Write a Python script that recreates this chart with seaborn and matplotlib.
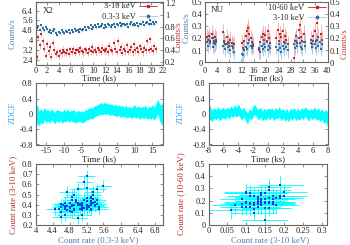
import numpy as np
import pandas as pd
import seaborn as sns
import matplotlib
matplotlib.use("Agg")
import matplotlib.pyplot as plt
from matplotlib.lines import Line2D
from matplotlib.ticker import MultipleLocator, FuncFormatter

# X2 light curves (0.25 ks bins)
x2_time = [0.25, 0.5, 0.75, 1.0, 1.25, 1.5, 1.75, 2.0, 2.25, 2.5, 2.75, 3.0,
           3.25, 3.5, 3.75, 4.0, 4.25, 4.5, 4.75, 5.0, 5.25, 5.5, 5.75, 6.0,
           6.25, 6.5, 6.75, 7.0, 7.25, 7.5, 7.75, 8.0, 8.25, 8.5, 8.75, 9.0,
           9.25, 9.5, 9.75, 10.0, 10.25, 10.5, 10.75, 11.0, 11.25, 11.5, 11.75, 12.0,
           12.25, 12.5, 12.75, 13.0, 13.25, 13.5, 13.75, 14.0, 14.25, 14.5, 14.75, 15.0,
           15.25, 15.5, 15.75, 16.0, 16.25, 16.5, 16.75, 17.0, 17.25, 17.5, 17.75, 18.0,
           18.25, 18.5, 18.75, 19.0, 19.25, 19.5, 19.75, 20.0, 20.25, 20.5, 20.75]
x2_soft = [5.0, 5.15, 4.85, 5.2, 5.0, 4.8, 5.1, 4.9,
           4.7, 4.85, 4.6, 4.75, 4.9, 4.6, 4.45, 4.7,
           4.6, 4.8, 4.65, 4.55, 4.75, 4.7, 4.85, 4.6,
           4.8, 4.7, 4.9, 4.75, 4.85, 4.7, 4.95, 4.8,
           4.9, 5.05, 4.85, 5.1, 5.0, 5.2, 4.95, 5.1,
           5.2, 5.05, 5.3, 5.1, 5.15, 5.3, 5.0, 5.25,
           5.1, 5.3, 5.2, 5.05, 5.25, 5.35, 5.1, 5.3,
           5.2, 5.4, 5.15, 5.3, 5.35, 5.2, 5.3, 5.1,
           5.3, 5.45, 5.2, 5.35, 5.25, 5.4, 5.15, 5.35,
           5.3, 5.5, 5.2, 5.4, 5.45, 5.3, 5.6, 5.35,
           5.5, 5.3, 5.45]
x2_hard = [0.27, 0.62, 0.48, 0.68, 0.55, 0.42, 0.30, 0.50,
           0.38, 0.45, 0.28, 0.52, 0.40, 0.33, 0.36, 0.30,
           0.38, 0.34, 0.40, 0.36, 0.35, 0.39, 0.33, 0.41,
           0.37, 0.42, 0.35, 0.39, 0.40, 0.36, 0.43, 0.38,
           0.36, 0.41, 0.39, 0.35, 0.42, 0.38, 0.45, 0.37,
           0.40, 0.36, 0.43, 0.39, 0.37, 0.44, 0.40, 0.38,
           0.42, 0.36, 0.47, 0.40, 0.38, 0.52, 0.41, 0.36,
           0.56, 0.40, 0.45, 0.35, 0.42, 0.38, 0.48, 0.37,
           0.40, 0.45, 0.36, 0.50, 0.39, 0.43, 0.37, 0.46,
           0.41, 0.36, 0.44, 0.39, 0.55, 0.40, 0.58, 0.42,
           0.38, 0.47, 0.41]
x2_soft_err = 0.2
x2_hard_err = 0.06

# NU light curves
nu_time = [0.3, 0.7, 1.1, 1.5, 1.9, 2.3, 2.7, 3.1, 3.5, 3.9,
           6.0, 6.4, 6.8, 7.2, 7.6, 8.0, 8.4, 8.8, 9.2, 9.6,
           12.2, 12.6, 13.0, 13.4, 13.8, 14.2, 14.6, 15.0, 15.4, 15.8,
           17.8, 18.2, 18.6, 19.0, 19.4, 19.8, 20.2, 20.6, 21.0, 21.4,
           23.4, 23.8, 24.2, 24.6, 25.0, 25.4, 25.8, 26.2, 26.6, 27.0,
           29.0, 29.4, 29.8, 30.2, 30.6, 31.0, 31.4, 31.8, 32.2, 32.6,
           34.6, 35.0, 35.4, 35.8, 36.2, 36.6, 37.0, 37.4, 37.8, 38.2]
nu_hard = [0.17, 0.21, 0.19, 0.22, 0.18, 0.24, 0.20, 0.16, 0.21, 0.19,
           0.25, 0.18, 0.15, 0.21, 0.17, 0.14, 0.19, 0.16, 0.13, 0.15,
           0.16, 0.12, 0.18, 0.22, 0.26, 0.29, 0.24, 0.20, 0.17, 0.14,
           0.10, 0.17, 0.21, 0.24, 0.19, 0.23, 0.18, 0.26, 0.20, 0.16,
           0.20, 0.27, 0.18, 0.24, 0.21, 0.26, 0.17, 0.22, 0.19, 0.15,
           0.04, 0.18, 0.22, 0.16, 0.27, 0.31, 0.21, 0.18, 0.24, 0.17,
           0.19, 0.15, 0.22, 0.26, 0.18, 0.33, 0.21, 0.17, 0.24, 0.19]
nu_soft = [0.12, 0.17, 0.14, 0.19, 0.16, 0.20, 0.13, 0.18, 0.15, 0.17,
           0.14, 0.17, 0.11, 0.15, 0.13, 0.16, 0.10, 0.14, 0.12, 0.09,
           0.07, 0.06, 0.10, 0.13, 0.11, 0.16, 0.19, 0.14, 0.12, 0.15,
           0.12, 0.09, 0.14, 0.11, 0.15, 0.13, 0.17, 0.10, 0.14, 0.12,
           0.13, 0.10, 0.15, 0.12, 0.09, 0.14, 0.11, 0.16, 0.13, 0.10,
           0.15, 0.12, 0.18, 0.14, 0.20, 0.16, 0.13, 0.11, 0.17, 0.14,
           0.16, 0.13, 0.18, 0.15, 0.12, 0.19, 0.14, 0.17, 0.11, 0.15]
nu_hard_err = 0.07
nu_soft_err = 0.06

# ZDCF between the two bands
zdcf_x2_lag = [-18.0, -17.5, -17.0, -16.5, -16.0, -15.5, -15.0, -14.5, -14.0, -13.5,
               -13.0, -12.5, -12.0, -11.5, -11.0, -10.5, -10.0, -9.5, -9.0, -8.5,
               -8.0, -7.5, -7.0, -6.5, -6.0, -5.5, -5.0, -4.5, -4.0, -3.5,
               -3.0, -2.5, -2.0, -1.5, -1.0, -0.5, 0.0, 0.5, 1.0, 1.5,
               2.0, 2.5, 3.0, 3.5, 4.0, 4.5, 5.0, 5.5, 6.0, 6.5,
               7.0, 7.5, 8.0, 8.5, 9.0, 9.5, 10.0, 10.5, 11.0, 11.5,
               12.0, 12.5, 13.0, 13.5, 14.0, 14.5, 15.0, 15.5, 16.0, 16.5,
               17.0, 17.5, 18.0]
zdcf_x2 = [-0.10, 0.00, -0.12, -0.04, -0.10, 0.01, -0.07, -0.03, -0.09, 0.00,
           -0.06, -0.11, -0.02, -0.07, -0.04, -0.10, -0.03, -0.07, -0.02, -0.08,
           -0.03, -0.06, -0.05, -0.10, -0.04, -0.08, -0.06, -0.09, -0.04, -0.02,
           0.00, 0.03, 0.01, 0.06, 0.08, 0.10, 0.12, 0.15, 0.12, 0.16,
           0.13, 0.14, 0.10, 0.13, 0.09, 0.11, 0.07, 0.10, 0.05, 0.09,
           0.04, 0.08, 0.03, 0.07, 0.02, 0.06, 0.08, 0.03, 0.07, 0.01,
           0.06, 0.02, 0.08, 0.00, 0.05, 0.02, 0.07, 0.01, 0.09, 0.20,
           0.06, -0.02, 0.03]
zdcf_x2_err = [0.30, 0.24, 0.20, 0.18, 0.17, 0.16, 0.16, 0.15, 0.16, 0.14,
               0.15, 0.14, 0.15, 0.16, 0.13, 0.15, 0.16, 0.14, 0.15, 0.14,
               0.13, 0.15, 0.16, 0.14, 0.15, 0.13, 0.15, 0.14, 0.15, 0.13,
               0.15, 0.14, 0.15, 0.15, 0.13, 0.15, 0.14, 0.16, 0.14, 0.15,
               0.15, 0.13, 0.15, 0.14, 0.13, 0.15, 0.15, 0.13, 0.15, 0.14,
               0.13, 0.15, 0.14, 0.13, 0.15, 0.14, 0.16, 0.14, 0.15, 0.16,
               0.14, 0.16, 0.15, 0.14, 0.16, 0.16, 0.17, 0.17, 0.18, 0.19,
               0.22, 0.25, 0.30]
zdcf_nu_lag = [-8.0, -7.75, -7.5, -7.25, -7.0, -6.75, -6.5, -6.25, -6.0,
               -5.75, -5.5, -5.25, -5.0, -4.75, -4.5, -4.25, -4.0,
               -3.75, -3.5, -3.25, -3.0, -2.75, -2.5, -2.25, -2.0,
               -1.75, -1.5, -1.25, -1.0, -0.75, -0.5, -0.25, 0.0,
               0.25, 0.5, 0.75, 1.0, 1.25, 1.5, 1.75, 2.0,
               2.25, 2.5, 2.75, 3.0, 3.25, 3.5, 3.75, 4.0,
               4.25, 4.5, 4.75, 5.0, 5.25, 5.5, 5.75, 6.0,
               6.25, 6.5, 6.75, 7.0, 7.25, 7.5, 7.75, 8.0]
zdcf_nu = [0.08, 0.02, -0.05, 0.03, -0.02, 0.05, -0.03, 0.01, 0.04,
           -0.02, 0.06, 0.00, 0.08, 0.03, 0.10, 0.05, 0.12,
           0.04, -0.03, 0.06, -0.05, -0.12, 0.02, -0.04, 0.08,
           0.12, 0.03, -0.02, 0.05, -0.06, 0.02, -0.03, 0.04,
           -0.02, 0.05, -0.05, 0.03, -0.01, 0.06, -0.04, 0.02,
           -0.06, 0.01, -0.08, 0.03, -0.03, 0.05, -0.05, 0.02,
           -0.04, 0.04, -0.02, 0.07, 0.00, -0.05, 0.03, -0.02,
           0.05, -0.03, 0.02, -0.06, 0.00, -0.10, -0.04, -0.12]
zdcf_nu_err = [0.21, 0.17, 0.15, 0.14, 0.13, 0.14, 0.15, 0.13, 0.14,
               0.13, 0.12, 0.14, 0.13, 0.12, 0.14, 0.13, 0.15,
               0.13, 0.14, 0.12, 0.13, 0.15, 0.13, 0.12, 0.14,
               0.13, 0.12, 0.14, 0.13, 0.12, 0.14, 0.13, 0.12,
               0.14, 0.12, 0.13, 0.14, 0.12, 0.13, 0.14, 0.12,
               0.13, 0.14, 0.12, 0.13, 0.14, 0.12, 0.13, 0.14,
               0.12, 0.13, 0.14, 0.12, 0.13, 0.14, 0.12, 0.13,
               0.14, 0.13, 0.15, 0.13, 0.14, 0.15, 0.16, 0.19]

x2 = pd.DataFrame({"time": x2_time, "soft": x2_soft, "hard": x2_hard})
nu = pd.DataFrame({"time": nu_time, "soft": nu_soft, "hard": nu_hard})

sns.set_theme(style="ticks")
plt.rcParams["font.family"] = ["Liberation Serif", "DejaVu Serif"]
plt.rcParams["font.size"] = 6

red, red_light = "#c0262c", "#eca6a6"
blue, blue_light = "#2f6e9b", "#a3c6e2"
cyan = "#00ffff"
frame = "#666666"

W, H = 350, 245
fig = plt.figure(figsize=(W / 100, H / 100), dpi=100)


def box(l, t, r, b):
    return [l / W, 1 - b / H, (r - l) / W, (b - t) / H]


def label(x, y, s, color, rot=0, size=6.3):
    fig.text(x / W, 1 - y / H, s, color=color, rotation=rot,
             ha="center", va="center", fontsize=size)


def fmt(v, pos):
    r = round(v, 6) + 0.0
    return "0" if r == 0 else "%g" % r


def style(ax, xstep, ystep, right=True):
    for sp in ax.spines.values():
        sp.set_color(frame)
        sp.set_linewidth(0.8)
    ax.tick_params(direction="in", length=2.5, width=0.5, color=frame,
                   labelsize=6, pad=2, top=True, right=right,
                   labelcolor="#222222")
    ax.tick_params(axis="x", pad=1.5)
    ax.xaxis.set_major_locator(MultipleLocator(xstep))
    ax.yaxis.set_major_locator(MultipleLocator(ystep))
    ax.xaxis.set_major_formatter(FuncFormatter(fmt))
    ax.yaxis.set_major_formatter(FuncFormatter(fmt))
    ax.set_xlabel("")
    ax.set_ylabel("")
    ax.grid(False)


def points(ax, x, y, c, s=3):
    sns.scatterplot(x=x, y=y, ax=ax, color=c, s=s, marker="s", linewidth=0, zorder=3)


def key(ax, labels, corner):
    hand = [Line2D([], [], color=red, lw=0.6, marker="s", markersize=1.5),
            Line2D([], [], color=blue_light, lw=0.6, marker="s", markersize=1.5,
                   markerfacecolor=blue, markeredgecolor=blue)]
    ax.legend(hand, labels, loc="upper right",
              bbox_to_anchor=(corner[0] / W, 1 - corner[1] / H),
              bbox_transform=fig.transFigure, frameon=False, markerfirst=False,
              fontsize=6, handlelength=2.2, handletextpad=0.4, labelspacing=0.25,
              borderpad=0, borderaxespad=0)


# ---- top left: X2 light curves
ax = fig.add_axes(box(35.5, 2, 163, 64.5))
ax.errorbar(x2["time"], x2["soft"], yerr=x2_soft_err * 0.6, xerr=0.12, fmt="none",
            ecolor=blue_light, elinewidth=0.6)
points(ax, x2["time"], x2["soft"], blue)
ax.set_xlim(0, 22)
ax.set_ylim(2.03, 7.1)
style(ax, 2, 0.8, right=False)
ax2 = ax.twinx()
ax2.errorbar(x2["time"], x2["hard"], yerr=x2_hard_err, xerr=0.12, fmt="none",
             ecolor=red_light, elinewidth=0.6)
points(ax2, x2["time"], x2["hard"], red)
ax2.set_ylim(0.15, 1.22)
style(ax2, 2, 0.2)
ax2.tick_params(left=False, top=False, pad=1.5)
ax.text(0.06, 0.83, "X2", transform=ax.transAxes, fontsize=6.5, color="#222222")
key(ax2, ["3-10 keV", "0.3-3 keV"], (157, 2.5))

# ---- top right: NU light curves
ax = fig.add_axes(box(204.5, 2.5, 327.5, 62.5))
ax.errorbar(nu["time"], nu["hard"], yerr=nu_hard_err, xerr=0.2, fmt="none",
            ecolor=red_light, elinewidth=0.6)
ax.errorbar(nu["time"], nu["soft"], yerr=nu_soft_err, xerr=0.2, fmt="none",
            ecolor=blue_light, elinewidth=0.6)
points(ax, nu["time"], nu["hard"], red)
points(ax, nu["time"], nu["soft"], blue)
ax.set_xlim(0, 40)
ax.set_ylim(0, 0.5)
style(ax, 4, 0.1)
ax.tick_params(axis="y", labelright=True, pad=1.5)
ax.tick_params(axis="x", pad=3.3)
ax.text(0.05, 0.84, "NU", transform=ax.transAxes, fontsize=6.5, color="#222222")
key(ax, ["10-60 keV", "3-10 keV"], (326, 4))

# ---- middle: ZDCF
for rect, lag, val, err, xl, step in [
        (box(35.5, 83.5, 163, 144.5), zdcf_x2_lag, zdcf_x2, zdcf_x2_err, (-18, 18), 5),
        (box(208.5, 83.5, 327.5, 144.5), zdcf_nu_lag, zdcf_nu, zdcf_nu_err, (-8, 8), 2)]:
    ax = fig.add_axes(rect)
    v, e = np.array(val), np.array(err)
    ax.fill_between(lag, v - e, v + e, color=cyan, lw=0)
    sns.lineplot(x=lag, y=val, ax=ax, color=cyan, lw=0.6)
    ax.set_xlim(*xl)
    ax.set_ylim(-0.8, 0.8)
    style(ax, step, 0.4)

# ---- bottom: count-count scatter
for rect, x, y, xe, ye, xl, yl, xs, ys in [
        (box(35.5, 164, 163, 225), x2["soft"], x2["hard"], x2_soft_err, x2_hard_err,
         (4, 7.0), (0.2, 0.8), 0.4, 0.1),
        (box(208.5, 164, 326.5, 225), nu["soft"], nu["hard"], nu_soft_err, nu_hard_err,
         (0, 0.313), (0, 0.5), 0.05, 0.1)]:
    ax = fig.add_axes(rect)
    ax.errorbar(x, y, xerr=xe, yerr=ye, fmt="none", ecolor=cyan, elinewidth=0.6)
    points(ax, x, y, "#1a3ce6", s=4)
    ax.set_xlim(*xl)
    ax.set_ylim(*yl)
    style(ax, xs, ys)

# axis titles
blue_txt, red_txt, zd_txt = "#4a80b4", "#c23434", "#3ba6f2"
label(13, 34, "Counts/s", blue_txt, 90)
label(178.5, 37, "Counts/s", red_txt, 90)
label(187, 28, "Counts/s", blue_txt, 90)
label(345, 44, "Counts/s", red_txt, 90)
label(99, 78.5, "Time (ks)", "#222222")
label(266, 78.5, "Time (ks)", "#222222")
label(13, 113, "ZDCF", zd_txt, 90)
label(181, 113, "ZDCF", zd_txt, 90)
label(99, 159.5, "Time (ks)", "#222222")
label(268, 159.5, "Time (ks)", "#222222")
label(13, 195, "Count rate (3-10 keV)", "#b52b2b", 90)
label(181, 194, "Count rate (10-60 keV)", "#b52b2b", 90)
label(98, 240, "Count rate (0.3-3 keV)", blue_txt)
label(270, 240, "Count rate (3-10 keV)", blue_txt)

fig.savefig("out.png", dpi=100)
